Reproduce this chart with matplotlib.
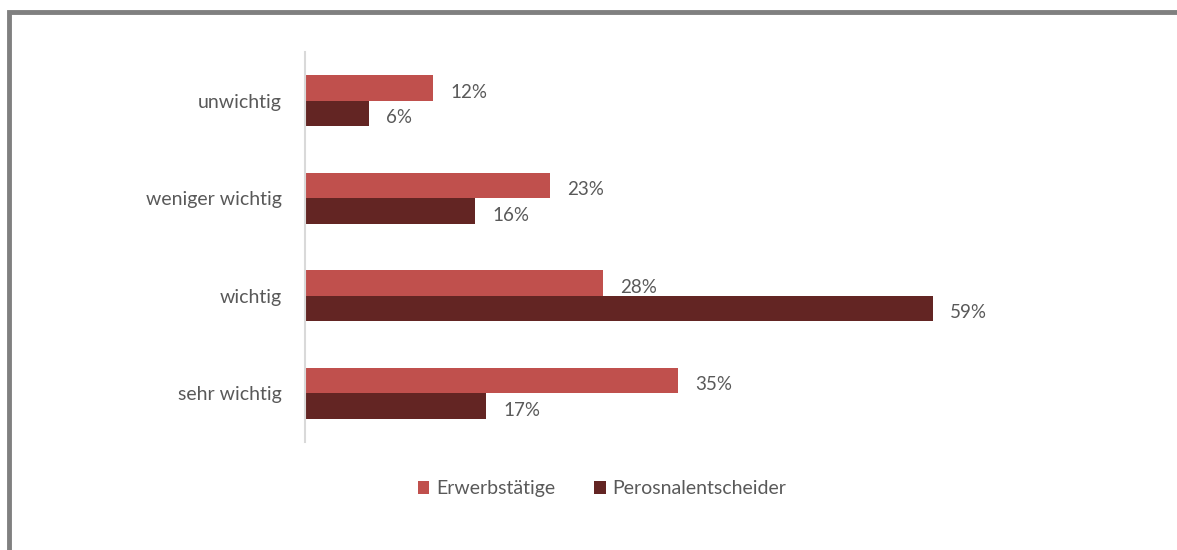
import matplotlib
matplotlib.use('Agg')
import matplotlib.pyplot as plt
import numpy as np
from matplotlib.patches import Rectangle

categories = ["sehr wichtig", "wichtig", "weniger wichtig", "unwichtig"]
erwerbstaetige = [35, 28, 23, 12]
personal = [17, 59, 16, 6]
series_names = ["Erwerbstätige", "Perosnalentscheider"]

C_ERW = '#C0504D'
C_PER = '#632523'
TEXT = '#595959'

plt.rcParams['font.family'] = ['Lato', 'DejaVu Sans']

W, H = 1177, 550
fig = plt.figure(figsize=(W / 100, H / 100), dpi=100)
fig.patch.set_facecolor('white')

# grey frame (top + left only visible)
fig.add_artist(Rectangle((9 / W, -0.1), 1.2, (H - 12) / H + 0.1,
                         transform=fig.transFigure, fill=False,
                         edgecolor='#808080', linewidth=3.5))

ax_l, ax_r = 305, 1150
ax_t, ax_b = 52, 442
ax = fig.add_axes([ax_l / W, 1 - ax_b / H, (ax_r - ax_l) / W, (ax_b - ax_t) / H])

px_per_pct = (933 - 305) / 59
ax.set_xlim(0, (ax_r - ax_l) / px_per_pct)
ax.set_ylim(-0.5, len(categories) - 0.5)

y = np.arange(len(categories))
h = 0.262
b1 = ax.barh(y + h / 2, erwerbstaetige, height=h, color=C_ERW, label=series_names[0])
b2 = ax.barh(y - h / 2, personal, height=h, color=C_PER, label=series_names[1])

for bars, vals in ((b1, erwerbstaetige), (b2, personal)):
    for bar, v in zip(bars, vals):
        ax.annotate(f"{v}%", (bar.get_width(), bar.get_y() + bar.get_height() / 2),
                    xytext=(12.5, -3), textcoords='offset points',
                    ha='left', va='center', color=TEXT, fontsize=13.5)

ax.set_yticks(y)
ax.set_yticklabels(categories, color=TEXT, fontsize=14)
ax.tick_params(axis='y', length=0, pad=17)
ax.set_xticks([])
for s in ('top', 'right', 'bottom'):
    ax.spines[s].set_visible(False)
ax.spines['left'].set_color('#D9D9D9')
ax.spines['left'].set_linewidth(1.5)

leg = fig.legend(handles=[b1, b2], labels=series_names, loc='center',
                 bbox_to_anchor=(602 / W, 1 - 489 / H), ncol=2, frameon=False,
                 fontsize=14, handlelength=0.6, handleheight=0.6,
                 handletextpad=0.35, columnspacing=2.0)
for t in leg.get_texts():
    t.set_color(TEXT)

fig.savefig('out.png', dpi=100, facecolor='white')
